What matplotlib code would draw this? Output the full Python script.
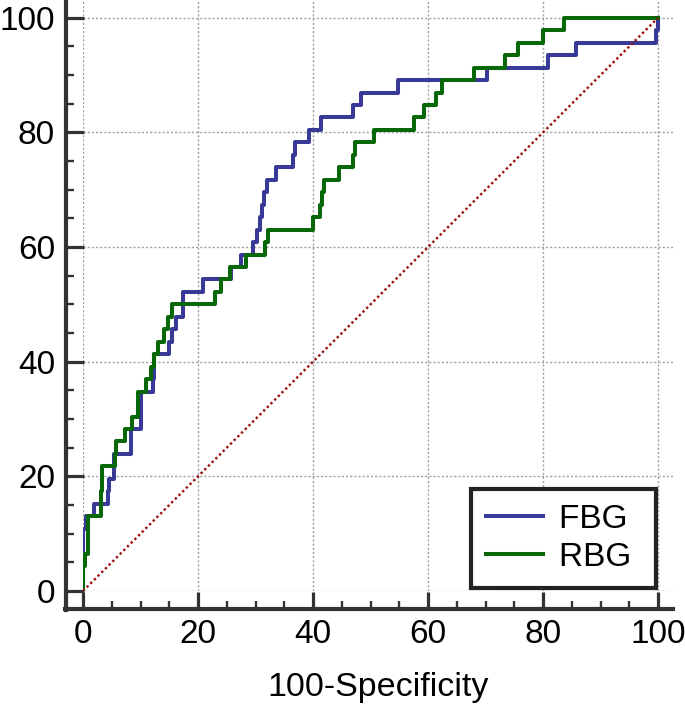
import numpy as np
import matplotlib
matplotlib.use('Agg')
import matplotlib.pyplot as plt
from matplotlib.ticker import MultipleLocator

plt.rcParams['font.family'] = ['Liberation Sans', 'DejaVu Sans']

# ROC points (100-specificity, sensitivity), step corners
fbg_x = [0, 0, 0.6, 1.9, 4.3, 4.6, 5.4, 8.3, 10.1, 12.1, 12.4, 15.0, 15.5, 16.1,
         17.4, 20.8, 25.8, 27.5, 29.6, 30.2, 30.75, 31.1, 31.5, 32.0, 33.6,
         36.5, 36.9, 39.3, 41.4, 47.0, 48.4, 54.7, 70.2, 80.9, 85.8, 99.6, 100]
fbg_y = [0, 10.87, 13.04, 15.22, 17.39, 19.57, 23.91, 28.26, 34.78, 36.96, 41.30,
         43.48, 45.65, 47.83, 52.17, 54.35, 56.52, 58.70, 60.87, 63.04, 65.22,
         67.39, 69.57, 71.74, 73.91, 76.09, 78.26, 80.43, 82.61, 84.78, 86.96,
         89.13, 91.30, 93.48, 95.65, 97.83, 100]

rbg_x = [0, 0, 0.3, 0.9, 3.1, 3.3, 5.5, 5.8, 7.3, 8.6, 9.5, 10.9, 11.8, 12.3, 13.0,
         14.1, 14.7, 15.4, 23.0, 24.0, 25.5, 28.4, 31.6, 32.2, 40.0, 41.3, 41.6,
         41.9, 44.5, 47.0, 47.3, 50.6, 57.5, 59.3, 61.4, 62.4, 68.0, 73.3, 75.7,
         80.0, 83.6, 100]
rbg_y = [0, 4.35, 6.52, 13.04, 17.39, 21.74, 23.91, 26.09, 28.26, 30.43, 34.78,
         36.96, 39.13, 41.30, 43.48, 45.65, 47.83, 50.0, 52.17, 54.35, 56.52,
         58.70, 60.87, 63.04, 65.22, 67.39, 69.57, 71.74, 73.91, 76.09, 78.26,
         80.43, 82.61, 84.78, 86.96, 89.13, 91.30, 93.48, 95.65, 97.83, 100, 100]

ref_line = [0, 100]

fig = plt.figure(figsize=(6.85, 7.08), dpi=100)
ax = fig.add_axes([83 / 685, 1 - 591 / 708, 590 / 685, 591 / 708])

ax.plot(fbg_x, fbg_y, drawstyle='steps-post', color='#393997', lw=2.9, label='FBG ', zorder=3)
ax.plot(rbg_x, rbg_y, drawstyle='steps-post', color='#086808', lw=2.9, label='RBG ', zorder=3)
ax.plot(ref_line, ref_line, color='#9c0c0c', lw=1.7, linestyle=(0, (1, 1.2)), zorder=4)

ax.set_xlim(0, 102.6)
ax.set_ylim(0, 103.1)
ax.xaxis.set_major_locator(MultipleLocator(20))
ax.yaxis.set_major_locator(MultipleLocator(20))
ax.xaxis.set_minor_locator(MultipleLocator(5))
ax.yaxis.set_minor_locator(MultipleLocator(5))

ax.grid(True, which='major', color='#a0a0a0', lw=1.0, linestyle=(0, (1.5, 1.5)))
ax.set_axisbelow(True)

for s in ['top', 'right']:
    ax.spines[s].set_visible(False)
ax.spines['left'].set_position(('outward', 12.6))
ax.spines['bottom'].set_position(('outward', 12.8))
ax.spines['left'].set_bounds(-3.3, 103.1)
ax.spines['bottom'].set_bounds(-3.2, 102.6)
for s in ['left', 'bottom']:
    ax.spines[s].set_linewidth(3.0)
    ax.spines[s].set_color('#333333')

ax.tick_params(which='major', direction='in', length=12.6, width=2.3, color='#333333',
               labelsize=24, pad=7.5)
ax.tick_params(which='minor', direction='in', length=5.8, width=1.7, color='#333333')

ax.set_xlabel('100-Specificity', fontsize=24.5, labelpad=16)

leg = ax.legend(loc='lower right', bbox_to_anchor=(0.971, 0.005), borderaxespad=0,
                fontsize=24, fancybox=False, framealpha=1, edgecolor='#222222',
                handlelength=1.7, handletextpad=0.5, borderpad=0.45, labelspacing=0.22)
leg.get_frame().set_linewidth(3.0)

fig.savefig('out.png', dpi=100)
